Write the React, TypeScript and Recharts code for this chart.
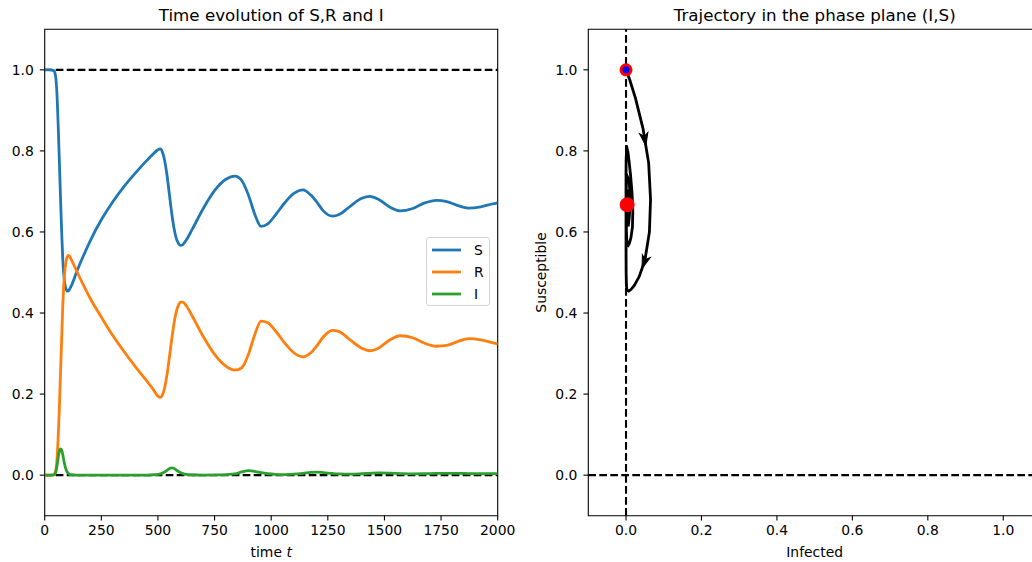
import {
  LineChart,
  ComposedChart,
  Line,
  Scatter,
  XAxis,
  YAxis,
  ReferenceLine,
  ReferenceArea,
  Legend,
} from "recharts";

const FONT = "'DejaVu Sans', sans-serif";

// sample times of the solution
const times = [
  0, 20, 40, 45, 50, 55, 60, 65, 70, 75, 80, 85, 90, 95, 100, 105, 110, 120, 140,
  170, 200, 250, 300, 350, 400, 450, 480, 500, 510, 520, 530, 540, 550, 560, 570,
  580, 590, 600, 610, 625, 650, 700, 750, 800, 840, 870, 900, 930, 955, 985, 1020,
  1060, 1100, 1140, 1175, 1200, 1230, 1270, 1300, 1350, 1400, 1435, 1475, 1525,
  1570, 1625, 1675, 1730, 1775, 1825, 1870, 1925, 1975, 2000,
];

const susceptible = [
  1.0, 1.0, 0.998, 0.993, 0.975, 0.93, 0.855, 0.77, 0.68, 0.6, 0.53, 0.49, 0.468,
  0.458, 0.454, 0.455, 0.459, 0.47, 0.5, 0.54, 0.577, 0.63, 0.674, 0.712, 0.745,
  0.776, 0.793, 0.803, 0.805, 0.797, 0.775, 0.74, 0.695, 0.65, 0.612, 0.586,
  0.572, 0.567, 0.569, 0.58, 0.605, 0.658, 0.702, 0.73, 0.738, 0.727, 0.69, 0.64,
  0.614, 0.62, 0.643, 0.672, 0.695, 0.704, 0.691, 0.675, 0.652, 0.639, 0.643,
  0.664, 0.683, 0.688, 0.68, 0.661, 0.652, 0.658, 0.671, 0.678, 0.675, 0.665,
  0.659, 0.662, 0.669, 0.672,
];

const recovered = [
  0, 0, 0.001, 0.004, 0.015, 0.045, 0.1, 0.17, 0.255, 0.338, 0.42, 0.475, 0.51,
  0.529, 0.539, 0.542, 0.54, 0.529, 0.505, 0.47, 0.437, 0.39, 0.345, 0.305, 0.268,
  0.233, 0.211, 0.195, 0.192, 0.198, 0.217, 0.248, 0.289, 0.332, 0.371, 0.401,
  0.419, 0.427, 0.427, 0.418, 0.394, 0.342, 0.298, 0.269, 0.259, 0.265, 0.299,
  0.351, 0.38, 0.376, 0.355, 0.326, 0.302, 0.292, 0.302, 0.318, 0.341, 0.357,
  0.354, 0.333, 0.313, 0.307, 0.314, 0.334, 0.344, 0.339, 0.326, 0.318, 0.32,
  0.33, 0.337, 0.334, 0.327, 0.324,
];

const infected = [
  0, 0, 0.001, 0.003, 0.01, 0.025, 0.045, 0.06, 0.065, 0.062, 0.05, 0.035, 0.022,
  0.013, 0.007, 0.004, 0.002, 0.001, 0.0003, 0.0001, 0, 0, 0, 0, 0, 0.0003, 0.001,
  0.002, 0.003, 0.005, 0.008, 0.012, 0.016, 0.018, 0.017, 0.013, 0.009, 0.006,
  0.004, 0.002, 0.001, 0.0003, 0.0005, 0.0015, 0.003, 0.008, 0.011, 0.009,
  0.006, 0.0035, 0.002, 0.0015, 0.0025, 0.0045, 0.0068, 0.0075, 0.0065, 0.0042,
  0.003, 0.0025, 0.0035, 0.0045, 0.0055, 0.005, 0.004, 0.0032, 0.0035, 0.0042,
  0.0045, 0.0045, 0.004, 0.0036, 0.0036, 0.0037,
];

const timeTicks = [0, 250, 500, 750, 1000, 1250, 1500, 1750, 2000];
const fractionTicks = [0, 0.2, 0.4, 0.6, 0.8, 1.0];

const series = [
  { key: "S", name: "S", color: "#1f77b4" },
  { key: "R", name: "R", color: "#ff7f0e" },
  { key: "I", name: "I", color: "#2ca02c" },
];

// endpoint of the trajectory (equilibrium) and times where arrows sit
const equilibrium = { i: 0.003, s: 0.667 };
const arrowTimes = [60, 80];

const timeData = times.map((t, k) => ({
  t,
  S: susceptible[k],
  R: recovered[k],
  I: infected[k],
}));
const phaseData = times.map((_, k) => ({ i: infected[k], s: susceptible[k] }));
const arrowIdx = arrowTimes.map((t) => times.indexOf(t));

const tickStyle = { fill: "#000", fontSize: 13.9, fontFamily: FONT };
const tickLineStyle = { stroke: "#000", strokeWidth: 1.1 };
const dash = "7.7 3.3";

function Arrow(props: any) {
  const { index, points } = props;
  if (!arrowIdx.includes(index) || !points || !points[index + 1]) return null;
  const a = points[index];
  const b = points[index + 1];
  const mx = (a.x + b.x) / 2;
  const my = (a.y + b.y) / 2;
  const ang = (Math.atan2(b.y - a.y, b.x - a.x) * 180) / Math.PI;
  return (
    <path
      key={`arrow-${index}`}
      d="M0,0 L-13,-4.2 L-9.5,0 L-13,4.2 Z"
      transform={`translate(${mx},${my}) rotate(${ang})`}
      fill="#000"
      stroke="#000"
      strokeWidth={1}
    />
  );
}

function LegendBox() {
  return (
    <div
      style={{
        width: 64,
        height: 69,
        boxSizing: "border-box",
        border: "1px solid #d4d4d4",
        borderRadius: 3,
        background: "rgba(255,255,255,0.8)",
        position: "relative",
        fontFamily: FONT,
        fontSize: 13.9,
        color: "#000",
      }}
    >
      {series.map((s, k) => (
        <div
          key={s.key}
          style={{
            position: "absolute",
            left: 4,
            top: 3.7 + 22 * k,
            height: 16,
            display: "flex",
            alignItems: "center",
          }}
        >
          <svg width={31} height={16}>
            <line x1={1} x2={30} y1={8} y2={8} stroke={s.color} strokeWidth={2.8} />
          </svg>
          <span style={{ marginLeft: 12, lineHeight: "16px" }}>{s.name}</span>
        </div>
      ))}
    </div>
  );
}

export default function App() {
  return (
    <div
      style={{
        position: "absolute",
        left: 0,
        top: 0,
        width: 1032,
        height: 562,
        overflow: "hidden",
        background: "#fff",
      }}
    >
      <div style={{ position: "absolute", left: 0, top: 0 }}>
        <LineChart
          width={520}
          height={562}
          data={timeData}
          margin={{ top: 29.3, right: 22.3, bottom: 45.3, left: 43.7 }}
        >
          <XAxis
            dataKey="t"
            type="number"
            domain={[0, 2000]}
            ticks={timeTicks}
            interval={0}
            allowDataOverflow
            height={1}
            axisLine={false}
            tickLine={tickLineStyle}
            tickSize={4.9}
            tickMargin={5}
            tick={tickStyle}
            label={(p: any) => {
              const vb = p.viewBox || { x: 44.7, y: 515.7, width: 453 };
              return (
                <text
                  x={vb.x + vb.width / 2}
                  y={vb.y + 41.3}
                  textAnchor="middle"
                  fontSize={13.9}
                  fontFamily={FONT}
                  fill="#000"
                >
                  time <tspan fontStyle="italic">t</tspan>
                </text>
              );
            }}
          />
          <YAxis
            type="number"
            domain={[-0.1, 1.1]}
            ticks={fractionTicks}
            interval={0}
            allowDataOverflow
            width={1}
            axisLine={false}
            tickLine={tickLineStyle}
            tickSize={4.9}
            tickMargin={6}
            tick={tickStyle}
            tickFormatter={(v: number) => v.toFixed(1)}
          />
          <ReferenceLine y={1} stroke="#000" strokeWidth={2.1} strokeDasharray={dash} />
          <ReferenceLine y={0} stroke="#000" strokeWidth={2.1} strokeDasharray={dash} />
          {series.map((s) => (
            <Line
              key={s.key}
              dataKey={s.key}
              name={s.name}
              type="monotone"
              stroke={s.color}
              strokeWidth={2.8}
              dot={false}
              activeDot={false}
              isAnimationActive={false}
            />
          ))}
          <ReferenceArea
            x1={0}
            x2={2000}
            y1={-0.1}
            y2={1.1}
            fill="none"
            fillOpacity={0}
            stroke="#000"
            strokeWidth={1.1}
          />
          <Legend
            layout="vertical"
            align="center"
            verticalAlign="middle"
            content={() => <LegendBox />}
            wrapperStyle={{ left: 426, top: 237.3, width: 64, height: 69 }}
          />
        </LineChart>
      </div>

      <div style={{ position: "absolute", left: 520, top: 0 }}>
        <ComposedChart
          width={540}
          height={562}
          margin={{ top: 29.3, right: 19, bottom: 45.3, left: 67.3 }}
        >
          <XAxis
            dataKey="i"
            type="number"
            domain={[-0.1, 1.1]}
            ticks={fractionTicks}
            interval={0}
            allowDataOverflow
            height={1}
            axisLine={false}
            tickLine={tickLineStyle}
            tickSize={4.9}
            tickMargin={5}
            tick={tickStyle}
            tickFormatter={(v: number) => v.toFixed(1)}
            label={(p: any) => {
              const vb = p.viewBox || { x: 68.3, y: 515.7, width: 452.7 };
              return (
                <text
                  x={vb.x + vb.width / 2}
                  y={vb.y + 41.6}
                  textAnchor="middle"
                  fontSize={13.9}
                  fontFamily={FONT}
                  fill="#000"
                >
                  Infected
                </text>
              );
            }}
          />
          <YAxis
            dataKey="s"
            type="number"
            domain={[-0.1, 1.1]}
            ticks={fractionTicks}
            interval={0}
            allowDataOverflow
            width={1}
            axisLine={false}
            tickLine={tickLineStyle}
            tickSize={4.9}
            tickMargin={6}
            tick={tickStyle}
            tickFormatter={(v: number) => v.toFixed(1)}
            label={(p: any) => {
              const vb = p.viewBox || { x: 67.3, y: 29.3, height: 486.4 };
              const x = vb.x - 41.3;
              const y = vb.y + vb.height / 2;
              return (
                <text
                  x={x}
                  y={y}
                  transform={`rotate(-90, ${x}, ${y})`}
                  textAnchor="middle"
                  fontSize={13.9}
                  fontFamily={FONT}
                  fill="#000"
                >
                  Susceptible
                </text>
              );
            }}
          />
          <ReferenceLine x={0} stroke="#000" strokeWidth={2.1} strokeDasharray={dash} />
          <ReferenceLine y={0} stroke="#000" strokeWidth={2.1} strokeDasharray={dash} />
          <Line
            data={phaseData}
            dataKey="s"
            type="linear"
            stroke="#000"
            strokeWidth={2.8}
            dot={(p: any) => <Arrow {...p} key={`a-${p.index}`} />}
            activeDot={false}
            isAnimationActive={false}
          />
          <Scatter
            data={[phaseData[0]]}
            dataKey="s"
            isAnimationActive={false}
            shape={(p: any) => (
              <circle cx={p.cx} cy={p.cy} r={5} fill="#0000ff" stroke="#ff0000" strokeWidth={3} />
            )}
          />
          <Scatter
            data={[equilibrium]}
            dataKey="s"
            isAnimationActive={false}
            shape={(p: any) => <circle cx={p.cx} cy={p.cy} r={7.5} fill="#ff0000" />}
          />
          <ReferenceArea
            x1={-0.1}
            x2={1.1}
            y1={-0.1}
            y2={1.1}
            fill="none"
            fillOpacity={0}
            stroke="#000"
            strokeWidth={1.1}
          />
        </ComposedChart>
      </div>

      <svg
        width={1032}
        height={562}
        style={{ position: "absolute", left: 0, top: 0, pointerEvents: "none" }}
      >
        <text x={271.2} y={20.5} textAnchor="middle" fontSize={16.7} fontFamily={FONT} fill="#000">
          Time evolution of S,R and I
        </text>
        <text x={814.7} y={20.5} textAnchor="middle" fontSize={16.7} fontFamily={FONT} fill="#000">
          Trajectory in the phase plane (I,S)
        </text>
      </svg>
    </div>
  );
}
